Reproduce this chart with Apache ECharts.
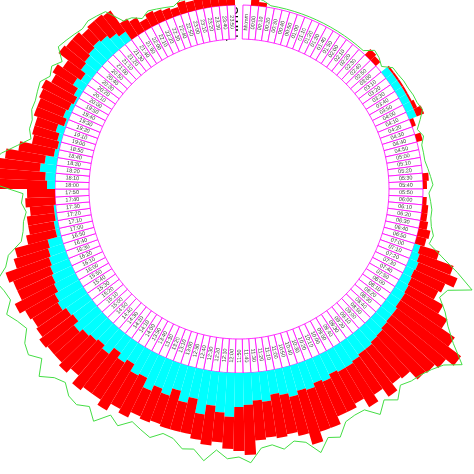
<!DOCTYPE html>
<html><head><meta charset="utf-8">
<script src="https://cdn.jsdelivr.net/npm/echarts@6/dist/echarts.min.js"></script>
<style>html,body{margin:0;padding:0;background:#fff}#chart{width:474px;height:474px}</style>
</head><body><div id="chart"></div>
<script>
var times=[];
for(var h=0;h<24;h++){for(var m=0;m<60;m+=10){times.push((h<10?'0':'')+h+':'+(m<10?'0':'')+m);}}
var cyanVals=[
0,0,0,0,0,0, 0,0,0,0,0,0, 0,0,0,0,0,0, 0,8,8,8,8,8,
8,8,0,0,0,0, 0,0,0,0,0,0, 0,0,0,0,0,0, 6,8,10,9,10,11,
12,12,14,14,15,17, 18,20,20,22,24,24, 22,26,24,28,26,30, 26,24,30,28,32,34,
44,40,34,44,30,36, 26,34,30,36,26,28, 20,24,18,26,22,24, 26,30,24,26,30,28,
24,22,20,18,16,14, 4,4,2,2,0,0, 8,10,16,12,4,2, 4,8,2,6,4,2,
6,12,8,14,16,18, 20,18,14,10,0,0, 0,0,0,0,0,0, 0,0,0,0,0,0];
var redVals=[
6,4,0,0,0,0, 0,0,0,0,0,0, 0,0,0,0,8,6, 0,2,2,2,2,2,
4,8,4,0,6,0, 0,0,0,6,4,0, 4,6,6,8,12,10, 20,36,42,34,30,40,
50,66,80,70,64,60, 48,44,52,40,46,36, 42,38,48,44,56,40, 40,44,36,40,50,44,
32,30,40,26,36,30, 40,30,36,28,44,38, 54,44,50,46,40,44, 38,34,42,36,30,34,
44,38,40,46,36,34, 30,26,28,24,30,28, 50,54,48,40,36,26, 26,22,32,28,32,36,
26,24,22,28,24,22, 16,20,24,26,20,16, 10,14,12,10,8,12, 10,12,14,10,8,6];
var lineVals=[
8,6,2,2,2,2, 2,2,2,2,2,2, 2,2,2,2,10,8, 4,12,12,13,13,14,
14,16,10,4,8,4, 4,4,6,8,10,6, 8,10,10,12,16,14, 30,50,70,48,44,56,
66,80,100,86,80,76, 74,70,80,72,82,70, 70,72,84,80,92,78, 74,80,74,76,90,84,
86,78,90,80,82,74, 72,80,76,72,82,76, 90,80,86,84,76,80, 90,76,84,80,70,74,
80,70,72,76,62,56, 40,36,34,30,34,32, 62,66,66,56,42,30, 34,34,38,38,40,42,
36,40,34,46,44,42, 40,42,40,38,20,18, 12,16,14,12,10,14, 12,14,16,12,10,8];

var cats=[''].concat(['hh:mm'],times);
var N=cats.length, step=360/N;
var ringData=cats.map(function(c,i){return i===0?null:-34;});
var labelData=cats.map(function(c,i){
  if(i===0) return null;
  var th=i*step, rot=th<180?90-th:270-th;
  return {value:[-17,c],label:{rotate:rot}};
});
var pad=function(a){return [null,null].concat(a);};

var chart=echarts.init(document.getElementById('chart'));
chart.setOption({
  animation:false,
  polar:{center:[239,189],radius:484},
  angleAxis:{type:'category',data:cats,startAngle:90+step/2,clockwise:true,
    axisLine:{show:false},axisTick:{show:false},axisLabel:{show:false},splitLine:{show:false}},
  radiusAxis:{type:'value',min:-184,max:300,show:false,splitLine:{show:false}},
  graphic:[{type:'text',left:226,top:6,rotation:Math.PI/2,
    style:{text:'Time',fontSize:16,fontFamily:'Liberation Sans',fill:'#000'}}],
  series:[
    {type:'bar',coordinateSystem:'polar',stack:'a',barCategoryGap:'0%',data:ringData,
      itemStyle:{color:'#fff',borderColor:'#ff00ff',borderWidth:0.8}},
    {type:'bar',coordinateSystem:'polar',stack:'a',barCategoryGap:'0%',data:pad(cyanVals),
      itemStyle:{color:'#00ffff'}},
    {type:'bar',coordinateSystem:'polar',stack:'a',barCategoryGap:'0%',data:pad(redVals),
      itemStyle:{color:'#ff0000'}},
    {type:'line',coordinateSystem:'polar',data:pad(lineVals),symbol:'none',
      lineStyle:{color:'#44dd44',width:1}},
    {type:'scatter',coordinateSystem:'polar',data:labelData,symbolSize:0,silent:true,
      label:{show:true,position:'inside',fontSize:5.5,fontFamily:'Liberation Sans',color:'#000',
        formatter:function(p){return p.value[1];}}}
  ]
});
</script></body></html>
